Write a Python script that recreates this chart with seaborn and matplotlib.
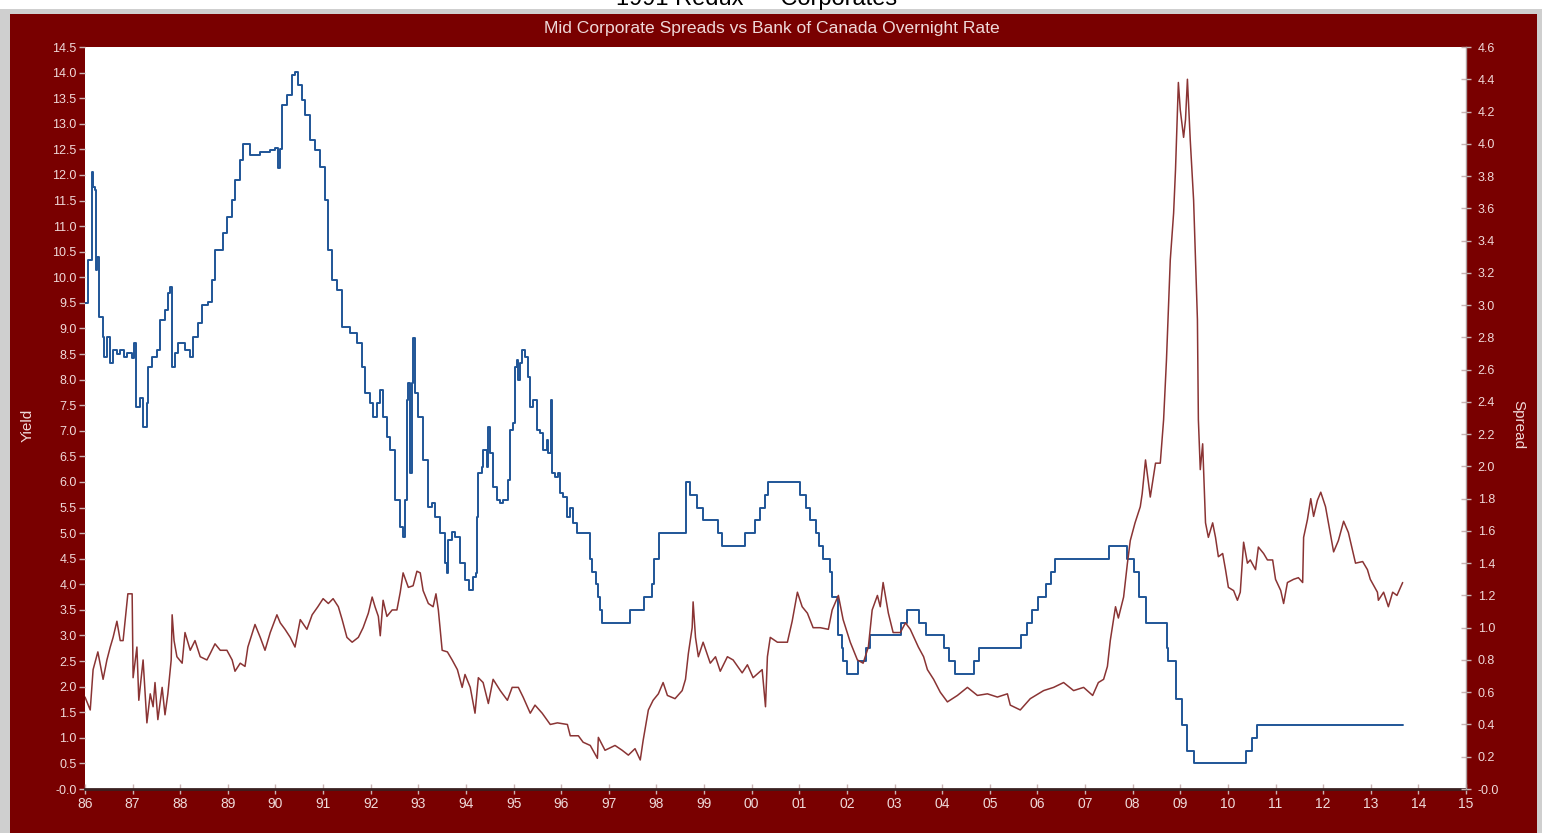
import matplotlib
matplotlib.use("Agg")
import matplotlib.pyplot as plt
from matplotlib.patches import Rectangle
from matplotlib.ticker import MultipleLocator, FuncFormatter
import seaborn as sns

# Bank rate (left axis, "Yield")
rate_years = [
    1986.00, 1986.06, 1986.15, 1986.17, 1986.21, 1986.23, 1986.25, 1986.29, 1986.38, 1986.40,
    1986.46, 1986.53, 1986.59, 1986.67, 1986.74, 1986.82, 1986.88, 1986.99, 1987.03, 1987.07,
    1987.16, 1987.22, 1987.30, 1987.32, 1987.41, 1987.51, 1987.58, 1987.68, 1987.74, 1987.79,
    1987.83, 1987.89, 1987.95, 1988.10, 1988.21, 1988.27, 1988.37, 1988.46, 1988.58, 1988.67,
    1988.73, 1988.84, 1988.90, 1988.98, 1989.09, 1989.15, 1989.26, 1989.32, 1989.47, 1989.68,
    1989.89, 1989.99, 1990.05, 1990.10, 1990.14, 1990.24, 1990.35, 1990.41, 1990.47, 1990.56,
    1990.62, 1990.73, 1990.83, 1990.94, 1991.04, 1991.11, 1991.19, 1991.29, 1991.40, 1991.57,
    1991.71, 1991.82, 1991.88, 1991.99, 1992.05, 1992.13, 1992.20, 1992.26, 1992.34, 1992.41,
    1992.51, 1992.62, 1992.68, 1992.72, 1992.76, 1992.79, 1992.83, 1992.87, 1992.89, 1992.93,
    1993.00, 1993.10, 1993.21, 1993.29, 1993.35, 1993.46, 1993.56, 1993.61, 1993.63, 1993.71,
    1993.77, 1993.88, 1993.98, 1994.07, 1994.15, 1994.21, 1994.24, 1994.26, 1994.34, 1994.36,
    1994.45, 1994.47, 1994.51, 1994.57, 1994.66, 1994.72, 1994.78, 1994.89, 1994.93, 1994.99,
    1995.03, 1995.08, 1995.10, 1995.14, 1995.18, 1995.24, 1995.31, 1995.35, 1995.41, 1995.50,
    1995.56, 1995.62, 1995.71, 1995.73, 1995.79, 1995.81, 1995.87, 1995.94, 1995.98, 1996.04,
    1996.13, 1996.19, 1996.25, 1996.34, 1996.55, 1996.61, 1996.64, 1996.74, 1996.78, 1996.82,
    1996.86, 1997.45, 1997.74, 1997.91, 1997.95, 1998.06, 1998.63, 1998.71, 1998.86, 1998.98,
    1999.30, 1999.38, 1999.87, 2000.08, 2000.18, 2000.29, 2000.35, 2001.02, 2001.15, 2001.23,
    2001.34, 2001.42, 2001.50, 2001.65, 2001.69, 2001.82, 2001.90, 2001.92, 2002.01, 2002.24,
    2002.41, 2002.49, 2003.14, 2003.27, 2003.52, 2003.65, 2004.03, 2004.15, 2004.26, 2004.66,
    2004.78, 2005.66, 2005.79, 2005.89, 2006.02, 2006.17, 2006.29, 2006.36, 2007.51, 2007.89,
    2008.02, 2008.14, 2008.29, 2008.73, 2008.75, 2008.90, 2009.03, 2009.15, 2009.28, 2010.39,
    2010.50, 2010.62, 2013.67,
]
rate_vals = [
    9.50, 10.34, 12.06, 11.76, 11.71, 10.14, 10.40, 9.22, 8.83, 8.44,
    8.83, 8.33, 8.58, 8.50, 8.58, 8.45, 8.52, 8.42, 8.72, 7.47,
    7.64, 7.07, 7.54, 8.25, 8.44, 8.58, 9.17, 9.36, 9.69, 9.81,
    8.25, 8.52, 8.72, 8.58, 8.44, 8.83, 9.11, 9.46, 9.52, 9.95,
    10.53, 10.53, 10.87, 11.18, 11.51, 11.90, 12.29, 12.60, 12.39, 12.45,
    12.49, 12.53, 12.14, 12.50, 13.37, 13.56, 13.95, 14.01, 13.76, 13.46,
    13.17, 12.68, 12.49, 12.16, 11.51, 10.53, 9.95, 9.75, 9.03, 8.91,
    8.72, 8.25, 7.74, 7.54, 7.27, 7.54, 7.80, 7.27, 6.88, 6.62,
    5.65, 5.12, 4.92, 5.65, 7.60, 7.93, 6.17, 7.93, 8.81, 7.74,
    7.27, 6.43, 5.51, 5.59, 5.32, 5.00, 4.42, 4.22, 4.87, 5.02,
    4.92, 4.42, 4.08, 3.89, 4.14, 4.22, 5.32, 6.17, 6.29, 6.62,
    6.29, 7.07, 6.56, 5.90, 5.65, 5.59, 5.65, 6.04, 7.02, 7.15,
    8.25, 8.38, 7.99, 8.33, 8.58, 8.44, 8.05, 7.47, 7.60, 7.02,
    6.96, 6.62, 6.82, 6.56, 7.60, 6.17, 6.10, 6.17, 5.78, 5.71,
    5.32, 5.49, 5.20, 5.00, 5.00, 4.50, 4.25, 4.00, 3.75, 3.50,
    3.25, 3.50, 3.75, 4.00, 4.50, 5.00, 6.00, 5.75, 5.50, 5.25,
    5.00, 4.75, 5.00, 5.25, 5.50, 5.75, 6.00, 5.75, 5.50, 5.25,
    5.00, 4.75, 4.50, 4.25, 3.75, 3.00, 2.75, 2.50, 2.25, 2.50,
    2.75, 3.00, 3.25, 3.50, 3.25, 3.00, 2.75, 2.50, 2.25, 2.50,
    2.75, 3.00, 3.25, 3.50, 3.75, 4.00, 4.25, 4.50, 4.75, 4.50,
    4.25, 3.75, 3.25, 2.75, 2.50, 1.75, 1.25, 0.75, 0.50, 0.75,
    1.00, 1.25, 1.25,
]

# Mid corporate spread (right axis, "Spread")
spread_years = [
    1986.00, 1986.11, 1986.17, 1986.27, 1986.38, 1986.46, 1986.53, 1986.59, 1986.67, 1986.74,
    1986.80, 1986.90, 1986.99, 1987.01, 1987.09, 1987.13, 1987.22, 1987.30, 1987.37, 1987.43,
    1987.47, 1987.53, 1987.62, 1987.68, 1987.74, 1987.81, 1987.83, 1987.87, 1987.93, 1988.04,
    1988.10, 1988.21, 1988.31, 1988.42, 1988.56, 1988.63, 1988.73, 1988.84, 1988.98, 1989.09,
    1989.15, 1989.26, 1989.36, 1989.42, 1989.57, 1989.68, 1989.78, 1989.89, 1990.03, 1990.10,
    1990.20, 1990.31, 1990.41, 1990.52, 1990.66, 1990.77, 1990.89, 1991.00, 1991.11, 1991.21,
    1991.32, 1991.40, 1991.50, 1991.61, 1991.74, 1991.84, 1991.95, 1992.03, 1992.09, 1992.16,
    1992.20, 1992.26, 1992.34, 1992.45, 1992.55, 1992.62, 1992.68, 1992.79, 1992.89, 1992.97,
    1993.04, 1993.10, 1993.21, 1993.31, 1993.37, 1993.42, 1993.50, 1993.61, 1993.71, 1993.82,
    1993.92, 1993.98, 1994.09, 1994.19, 1994.26, 1994.36, 1994.47, 1994.57, 1994.72, 1994.87,
    1994.97, 1995.10, 1995.20, 1995.35, 1995.45, 1995.60, 1995.77, 1995.92, 1996.13, 1996.19,
    1996.36, 1996.46, 1996.61, 1996.76, 1996.78, 1996.92, 1997.13, 1997.28, 1997.41, 1997.55,
    1997.66, 1997.72, 1997.83, 1997.93, 1998.04, 1998.14, 1998.23, 1998.39, 1998.54, 1998.61,
    1998.67, 1998.75, 1998.77, 1998.82, 1998.88, 1998.98, 1999.13, 1999.24, 1999.34, 1999.49,
    1999.61, 1999.80, 1999.91, 2000.03, 2000.22, 2000.29, 2000.33, 2000.39, 2000.54, 2000.75,
    2000.85, 2000.96, 2001.06, 2001.17, 2001.29, 2001.44, 2001.61, 2001.69, 2001.82, 2001.92,
    2002.07, 2002.22, 2002.34, 2002.45, 2002.53, 2002.64, 2002.70, 2002.76, 2002.87, 2002.97,
    2003.12, 2003.23, 2003.33, 2003.50, 2003.61, 2003.69, 2003.82, 2003.96, 2004.11, 2004.32,
    2004.53, 2004.74, 2004.95, 2005.16, 2005.37, 2005.43, 2005.64, 2005.85, 2006.13, 2006.34,
    2006.55, 2006.76, 2006.97, 2007.16, 2007.28, 2007.39, 2007.47, 2007.53, 2007.64, 2007.70,
    2007.81, 2007.89, 2007.95, 2008.05, 2008.16, 2008.20, 2008.27, 2008.37, 2008.48, 2008.58,
    2008.65, 2008.71, 2008.75, 2008.79, 2008.86, 2008.90, 2008.96, 2009.00, 2009.07, 2009.11,
    2009.15, 2009.21, 2009.28, 2009.32, 2009.36, 2009.38, 2009.42, 2009.47, 2009.53, 2009.59,
    2009.68, 2009.74, 2009.80, 2009.89, 2009.95, 2010.01, 2010.12, 2010.20, 2010.26, 2010.33,
    2010.41, 2010.47, 2010.58, 2010.64, 2010.75, 2010.83, 2010.94, 2011.00, 2011.11, 2011.17,
    2011.25, 2011.38, 2011.48, 2011.57, 2011.59, 2011.67, 2011.74, 2011.80, 2011.88, 2011.95,
    2012.05, 2012.11, 2012.22, 2012.32, 2012.43, 2012.53, 2012.68, 2012.83, 2012.93, 2012.99,
    2013.14, 2013.16, 2013.27, 2013.37, 2013.46, 2013.55, 2013.67,
]
spread_vals = [
    0.57, 0.49, 0.74, 0.85, 0.68, 0.80, 0.88, 0.94, 1.04, 0.92,
    0.92, 1.21, 1.21, 0.69, 0.88, 0.55, 0.80, 0.41, 0.59, 0.51,
    0.66, 0.43, 0.63, 0.46, 0.59, 0.80, 1.08, 0.92, 0.82, 0.78,
    0.97, 0.86, 0.92, 0.82, 0.80, 0.84, 0.90, 0.86, 0.86, 0.80,
    0.73, 0.78, 0.76, 0.88, 1.02, 0.94, 0.86, 0.97, 1.08, 1.03,
    0.99, 0.94, 0.88, 1.05, 0.99, 1.08, 1.13, 1.18, 1.15, 1.18,
    1.13, 1.05, 0.94, 0.91, 0.94, 1.00, 1.09, 1.19, 1.13, 1.07,
    0.95, 1.17, 1.07, 1.11, 1.11, 1.22, 1.34, 1.25, 1.26, 1.35,
    1.34, 1.23, 1.15, 1.13, 1.21, 1.11, 0.86, 0.85, 0.80, 0.74,
    0.63, 0.71, 0.63, 0.47, 0.69, 0.66, 0.53, 0.68, 0.61, 0.55,
    0.63, 0.63, 0.57, 0.47, 0.52, 0.47, 0.40, 0.41, 0.40, 0.33,
    0.33, 0.29, 0.27, 0.19, 0.32, 0.24, 0.27, 0.24, 0.21, 0.25,
    0.18, 0.30, 0.49, 0.55, 0.59, 0.66, 0.58, 0.56, 0.61, 0.68,
    0.84, 1.00, 1.16, 0.94, 0.82, 0.91, 0.78, 0.82, 0.73, 0.82,
    0.80, 0.72, 0.77, 0.69, 0.74, 0.51, 0.82, 0.94, 0.91, 0.91,
    1.04, 1.22, 1.13, 1.09, 1.00, 1.00, 0.99, 1.11, 1.20, 1.05,
    0.91, 0.80, 0.78, 0.88, 1.11, 1.20, 1.13, 1.28, 1.09, 0.97,
    0.97, 1.03, 0.99, 0.88, 0.82, 0.74, 0.68, 0.60, 0.54, 0.58,
    0.63, 0.58, 0.59, 0.57, 0.59, 0.52, 0.49, 0.56, 0.61, 0.63,
    0.66, 0.61, 0.63, 0.58, 0.66, 0.68, 0.76, 0.92, 1.13, 1.06,
    1.19, 1.40, 1.54, 1.65, 1.75, 1.83, 2.04, 1.81, 2.02, 2.02,
    2.29, 2.66, 2.97, 3.28, 3.57, 3.84, 4.38, 4.21, 4.04, 4.15,
    4.40, 4.02, 3.65, 3.28, 2.91, 2.29, 1.98, 2.14, 1.65, 1.56,
    1.65, 1.56, 1.44, 1.46, 1.36, 1.25, 1.23, 1.17, 1.22, 1.53,
    1.40, 1.42, 1.36, 1.50, 1.46, 1.42, 1.42, 1.30, 1.23, 1.15,
    1.28, 1.30, 1.31, 1.28, 1.56, 1.67, 1.80, 1.69, 1.79, 1.84,
    1.75, 1.65, 1.47, 1.54, 1.66, 1.59, 1.40, 1.41, 1.36, 1.30,
    1.22, 1.17, 1.22, 1.13, 1.22, 1.20, 1.28,
]
assert len(rate_years) == len(rate_vals)
assert len(spread_years) == len(spread_vals)

year_ticks = list(range(1986, 2016))
year_labels = [f"{y % 100:02d}" for y in year_ticks]

FRAME = "#790000"
LABEL = "#efd9d9"
TICK = "#c9b3b3"
BLUE = "#1f5597"
BROWN = "#8a3434"

sns.set_style("white")
plt.rcParams["font.family"] = ["Liberation Sans", "DejaVu Sans"]

W, H = 1542, 833
fig = plt.figure(figsize=(W / 100, H / 100), dpi=100)
fig.patch.set_facecolor("white")
fig.patches.append(Rectangle((0, 0), 1, 1 - 9 / H, transform=fig.transFigure,
                             facecolor="#cfcfcf", edgecolor="none", zorder=-3))
fig.patches.append(Rectangle((10 / W, 0), 1527 / W, 1 - 14 / H, transform=fig.transFigure,
                             facecolor=FRAME, edgecolor="none", zorder=-2))

# page heading above the chart frame, cut off by the top edge as in the source
fig.text(757 / W, 1 - 5 / H, "1991 Redux \u2014 Corporates", ha="center", va="baseline",
         fontsize=17, color="black")
fig.text(772 / W, 1 - 28 / H, "Mid Corporate Spreads vs Bank of Canada Overnight Rate",
         ha="center", va="center", fontsize=12.6, color=LABEL)
fig.text(28 / W, 1 - 425 / H, "Yield", rotation=90, ha="center", va="center",
         fontsize=11, color=LABEL)
fig.text(1518 / W, 1 - 425 / H, "Spread", rotation=270, ha="center", va="center",
         fontsize=11, color=LABEL)

ax = fig.add_axes([85 / W, 1 - 789 / H, (1466 - 85) / W, (789 - 47) / H])
ax.set_facecolor("white")
sns.lineplot(x=rate_years, y=rate_vals, ax=ax, color=BLUE, linewidth=1.4,
             drawstyle="steps-post")
ax.set_xlim(1986, 2015)
ax.set_ylim(0, 14.5)
ax.yaxis.set_major_locator(MultipleLocator(0.5))
ax.yaxis.set_major_formatter(FuncFormatter(lambda v, p: "-0.0" if abs(v) < 1e-9 else f"{v:.1f}"))
ax.set_xticks(year_ticks)
ax.set_xticklabels(year_labels)

ax2 = ax.twinx()
sns.lineplot(x=spread_years, y=spread_vals, ax=ax2, color=BROWN, linewidth=1.1)
ax2.set_ylim(0, 4.6)
ax2.yaxis.set_major_locator(MultipleLocator(0.2))
ax2.yaxis.set_major_formatter(FuncFormatter(lambda v, p: "-0.0" if abs(v) < 1e-9 else f"{v:.1f}"))
ax2.set_xlim(1986, 2015)

for a in (ax, ax2):
    a.set_xlabel("")
    a.set_ylabel("")
    for s in a.spines.values():
        s.set_visible(False)
    a.grid(False)

ax.spines["bottom"].set_visible(True)
ax.spines["bottom"].set_color("#3a2020")
ax.spines["bottom"].set_linewidth(2)
ax2.spines["right"].set_visible(True)
ax2.spines["right"].set_color("#b0a0a0")
ax2.spines["right"].set_linewidth(1)

ax.tick_params(axis="x", direction="inout", length=7, width=1, color=TICK,
               labelcolor=LABEL, labelsize=10, pad=2, bottom=True)
ax.tick_params(axis="y", direction="out", length=4, width=1, color=TICK,
               labelcolor=LABEL, labelsize=9, pad=2, left=True)
ax2.tick_params(axis="y", direction="inout", length=7, width=1, color=TICK,
                labelcolor=LABEL, labelsize=9, pad=5, right=True)

fig.savefig("out.png", dpi=100, facecolor=fig.get_facecolor())
